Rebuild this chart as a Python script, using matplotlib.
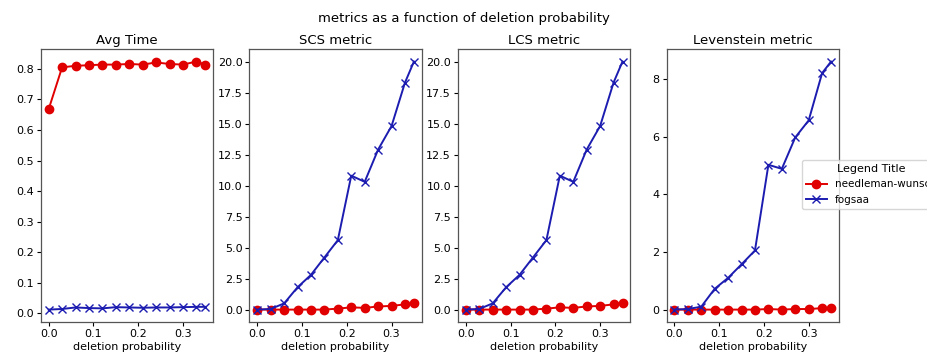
import matplotlib
matplotlib.use("Agg")
import matplotlib.pyplot as plt

x = [0.0, 0.03, 0.06, 0.09, 0.12, 0.15, 0.18, 0.21, 0.24, 0.27, 0.30, 0.33, 0.35]

nw_time = [0.668, 0.805, 0.810, 0.812, 0.814, 0.814, 0.816, 0.814, 0.821, 0.816, 0.814, 0.824, 0.814]
fg_time = [0.012, 0.014, 0.019, 0.017, 0.016, 0.020, 0.019, 0.018, 0.019, 0.019, 0.020, 0.021, 0.021]

nw_scs = [0.0, 0.0, 0.0, 0.0, 0.0, 0.0, 0.08, 0.18, 0.14, 0.25, 0.3, 0.42, 0.55]
fg_scs = [0.0, 0.05, 0.5, 1.8, 2.8, 4.2, 5.6, 10.8, 10.3, 12.9, 14.8, 18.3, 20.0]

nw_lcs = [0.0, 0.0, 0.0, 0.0, 0.0, 0.0, 0.08, 0.18, 0.14, 0.25, 0.3, 0.42, 0.55]
fg_lcs = [0.0, 0.05, 0.5, 1.8, 2.8, 4.2, 5.6, 10.8, 10.3, 12.9, 14.8, 18.3, 20.0]

nw_lev = [0.0, 0.0, 0.0, 0.0, 0.0, 0.0, 0.0, 0.02, 0.0, 0.02, 0.02, 0.05, 0.05]
fg_lev = [0.0, 0.02, 0.1, 0.72, 1.1, 1.57, 2.05, 5.02, 4.88, 5.97, 6.56, 8.2, 8.6]

titles = ["Avg Time", "SCS metric", "LCS metric", "Levenstein metric"]
series = [(nw_time, fg_time), (nw_scs, fg_scs), (nw_lcs, fg_lcs), (nw_lev, fg_lev)]
names = ["needleman-wunsch", "fogsaa"]

red = "#e00000"
blue = "#1c1cb0"

fig, axes = plt.subplots(1, 4, figsize=(9.28, 3.56), dpi=100)
fig.subplots_adjust(left=0.044, right=0.904, top=0.862, bottom=0.0955, wspace=0.21)

for ax, title, (nw, fg) in zip(axes, titles, series):
    ax.plot(x, nw, color=red, marker="o", markersize=6, linewidth=1.4, label=names[0])
    ax.plot(x, fg, color=blue, marker="x", markersize=5.5, linewidth=1.4, label=names[1])
    ax.set_title(title, fontsize=9.5, pad=4)
    ax.set_xlabel("deletion probability", fontsize=8, labelpad=2)
    ax.set_xticks([0.0, 0.1, 0.2, 0.3])
    ax.tick_params(labelsize=8, length=3, pad=2)
    for s in ax.spines.values():
        s.set_color("#555555")
        s.set_linewidth(0.9)

axes[0].set_yticks([0.0, 0.1, 0.2, 0.3, 0.4, 0.5, 0.6, 0.7, 0.8])
axes[3].set_yticks([0, 2, 4, 6, 8])

fig.suptitle("metrics as a function of deletion probability", fontsize=9.5, y=0.965)

handles, labels = axes[3].get_legend_handles_labels()
fig.legend(handles, labels, title="Legend Title", loc="center left",
           bbox_to_anchor=(0.864, 0.482), fontsize=7.5, title_fontsize=8,
           frameon=True, borderaxespad=0, handlelength=2.0)

fig.savefig("out.png", dpi=100)
